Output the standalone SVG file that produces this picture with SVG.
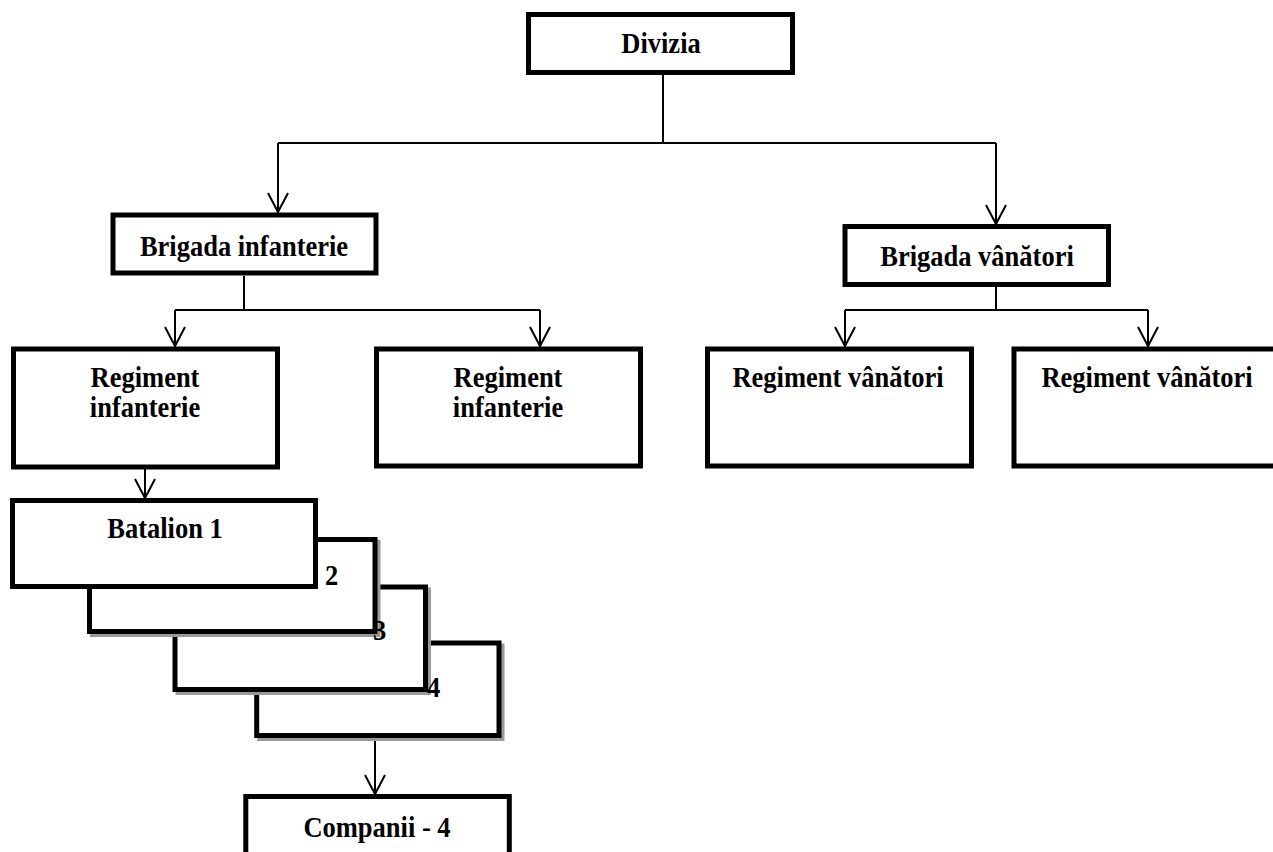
<svg xmlns="http://www.w3.org/2000/svg" width="1273" height="852" viewBox="0 0 1273 852">
<defs>
<style>
.box{fill:#fff;stroke:#000;stroke-width:5}
.shadow{fill:none;stroke:#9a9a9a;stroke-width:5}
.t{font-family:"Liberation Serif","Times New Roman",serif;font-weight:bold;font-size:26.5px;fill:#000;text-anchor:middle}
.tl{font-family:"Liberation Serif","Times New Roman",serif;font-weight:bold;font-size:26.5px;fill:#000}
.c{fill:none;stroke:#000;stroke-width:2}
</style>
<marker id="arr" markerUnits="userSpaceOnUse" markerWidth="24" markerHeight="24" viewBox="-21 -12 24 24" refX="0" refY="0" orient="auto">
<path d="M-19,-10 L0,0 L-19,10" fill="none" stroke="#000" stroke-width="2"/>
</marker>
</defs>
<rect width="1273" height="852" fill="#fff"/>
<g id="connectors">
<path class="c" d="M663,75 V143"/>
<path class="c" d="M278,143 H996"/>
<path class="c" d="M278,143 V212" marker-end="url(#arr)"/>
<path class="c" d="M996,143 V224" marker-end="url(#arr)"/>
<path class="c" d="M244,276 V310"/>
<path class="c" d="M175,310 H540"/>
<path class="c" d="M175,310 V346" marker-end="url(#arr)"/>
<path class="c" d="M540,310 V346" marker-end="url(#arr)"/>
<path class="c" d="M996,287 V310"/>
<path class="c" d="M845,310 H1148"/>
<path class="c" d="M845,310 V346" marker-end="url(#arr)"/>
<path class="c" d="M1148,310 V346" marker-end="url(#arr)"/>
<path class="c" d="M145,469 V498" marker-end="url(#arr)"/>
<path class="c" d="M375,738 V794" marker-end="url(#arr)"/>
</g>
<g id="divizia">
<rect class="box" x="528.5" y="14.5" width="264" height="58"/>
<text class="t" transform="translate(661,53) scale(1,1.13)">Divizia</text>
</g>
<g id="brigada-infanterie">
<rect class="box" x="113" y="215" width="263" height="58"/>
<text class="t" transform="translate(244,256) scale(1,1.13)">Brigada infanterie</text>
</g>
<g id="brigada-vanatori">
<rect class="box" x="845" y="226.5" width="263.5" height="58"/>
<text class="t" transform="translate(977,266) scale(1,1.13)">Brigada vânători</text>
</g>
<g id="regiment-infanterie-1">
<rect class="box" x="13.5" y="349" width="264" height="118"/>
<text class="t" transform="translate(145,387) scale(1,1.13)">Regiment</text>
<text class="t" transform="translate(145,417) scale(1,1.13)">infanterie</text>
</g>
<g id="regiment-infanterie-2">
<rect class="box" x="376.5" y="349" width="264" height="117"/>
<text class="t" transform="translate(508,387) scale(1,1.13)">Regiment</text>
<text class="t" transform="translate(508,417) scale(1,1.13)">infanterie</text>
</g>
<g id="regiment-vanatori-1">
<rect class="box" x="707.5" y="349" width="264" height="117"/>
<text class="t" transform="translate(838,387) scale(1,1.13)">Regiment vânători</text>
</g>
<g id="regiment-vanatori-2">
<rect class="box" x="1014" y="349" width="300" height="117"/>
<text class="t" transform="translate(1147,387) scale(1,1.13)">Regiment vânători</text>
</g>
<g id="batalion-4">
<rect class="shadow" x="259.7" y="646" width="242.3" height="92.5"/>
<rect class="box" x="256.7" y="643" width="242.3" height="92.5"/>
</g>
<g id="batalion-3">
<rect class="shadow" x="178" y="590" width="250.5" height="102.5"/>
<rect class="box" x="175" y="587" width="250.5" height="102.5"/>
</g>
<g id="batalion-2">
<rect class="shadow" x="92.5" y="542.5" width="285.5" height="92"/>
<rect class="box" x="89.5" y="539.5" width="285.5" height="92"/>
</g>
<g id="batalion-1">
<rect class="box" x="12.5" y="500.5" width="303" height="86"/>
<text class="t" transform="translate(165,538) scale(1,1.13)">Batalion 1</text>
</g>
<g id="batalion-labels">
<text class="tl" transform="translate(325,585) scale(1,1.13)">2</text>
<text class="tl" transform="translate(373,640) scale(1,1.13)">3</text>
<text class="tl" transform="translate(427,697) scale(1,1.13)">4</text>
</g>
<g id="companii">
<rect class="box" x="245.8" y="796.5" width="263.5" height="70"/>
<text class="t" transform="translate(377,837) scale(1,1.13)">Companii - 4</text>
</g>
</svg>
